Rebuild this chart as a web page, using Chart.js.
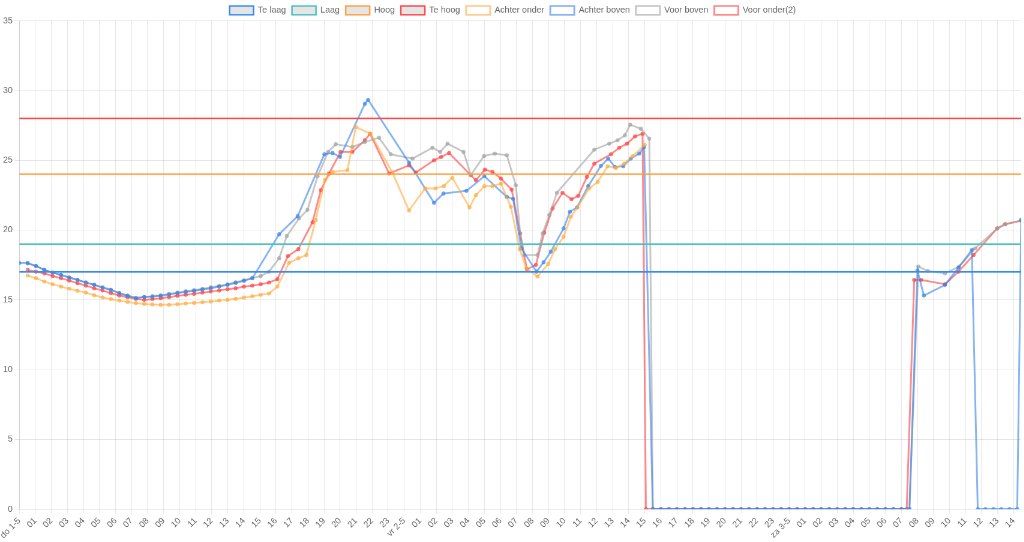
<!DOCTYPE html>
<html><head><meta charset="utf-8">
<script src="https://cdn.jsdelivr.net/npm/chart.js@4"></script>
<style>
html,body{margin:0;padding:0;overflow:hidden;background:#fff;}
#wrap{width:1707px;height:904px;transform:scale(0.6);transform-origin:0 0;}
</style></head><body>
<div id="wrap"><canvas id="c" width="1707" height="904"></canvas></div>
<script>
// hour tick labels (x = hours since do 1-5 00:00)
const hourLabels = ['do 1-5','01','02','03','04','05','06','07','08','09','10','11','12','13','14','15','16','17','18','19','20','21','22','23',
  'vr 2-5','01','02','03','04','05','06','07','08','09','10','11','12','13','14','15','16','17','18','19','20','21','22','23',
  'za 3-5','01','02','03','04','05','06','07','08','09','10','11','12','13','14'];
const xMax = 62.47;

// threshold levels
const teLaag = 17, laag = 19, hoog = 24, teHoog = 28;

// shared run of zero readings (sensor outage)
const zeroTimes = [39.5,40,40.5,41,41.5,42,42.5,43,43.5,44,44.5,45,45.5,46,46.5,47,47.5,48,48.5,49,49.5,50,50.5,51,51.5,52,52.5,53,53.5,54,54.5,55];
const zeroValues = [0,0,0,0,0,0,0,0,0,0,0,0,0,0,0,0,0,0,0,0,0,0,0,0,0,0,0,0,0,0,0,0];

// Achter onder
const tAchterOnder = [0.52,1.04,1.56,2.08,2.6,3.11,3.63,4.15,4.67,5.19,5.71,6.23,6.75,7.27,7.79,8.3,8.82,9.34,9.86,10.38,10.9,11.42,11.94,12.46,12.98,13.49,14.01,14.53,15.05,15.57,16.09,
  16.82,17.4,17.9,18.48,19.05,19.53,20.46,20.98,21.9,23.27,24.3,25.3,25.95,26.47,27.0,28.07,28.47,29.0,29.5,30.03,30.65,31.2,31.62,32.31,32.98,33.4,33.94,34.39,34.8,35.53,36.06,36.68,37.2,37.72,38.24,39.0];
const vAchterOnder = [16.74,16.55,16.31,16.12,15.95,15.8,15.65,15.52,15.33,15.17,15.05,14.95,14.85,14.76,14.71,14.67,14.64,14.64,14.69,14.74,14.78,14.83,14.88,14.95,15.0,15.07,15.17,15.26,15.36,15.45,15.95,
  17.65,17.98,18.21,20.71,23.57,24.17,24.29,27.38,26.9,24.1,21.4,22.98,22.98,23.15,23.75,21.62,22.5,23.14,23.14,23.33,21.67,18.63,17.26,16.67,17.57,18.62,19.52,20.95,21.62,22.98,23.45,24.57,24.45,24.76,25.29,26.12];

// Achter boven
const tAchterBoven = [0,0.52,1.04,1.56,2.08,2.6,3.11,3.63,4.15,4.67,5.19,5.71,6.23,6.75,7.27,7.79,8.3,8.82,9.34,9.86,10.38,10.9,11.42,11.94,12.46,12.98,13.49,14.01,14.53,
  16.2,17.36,19.02,19.53,20.0,21.55,21.75,24.3,25.86,26.45,27.88,29.0,30.4,30.79,31.3,32.25,32.69,33.14,33.94,34.33,34.77,35.47,36.26,36.72,37.14,37.66,38.13,38.65,38.96];
const vAchterBoven = [17.64,17.64,17.43,17.14,16.95,16.79,16.6,16.43,16.24,16.07,15.88,15.71,15.48,15.29,15.12,15.2,15.24,15.29,15.38,15.48,15.57,15.64,15.74,15.83,15.95,16.07,16.21,16.36,16.55,
  19.7,21.0,25.43,25.52,25.24,29.05,29.33,24.83,21.95,22.62,22.81,23.86,22.38,22.24,18.69,17.02,17.69,18.45,20.12,21.31,21.62,23.14,24.6,25.12,24.52,24.57,25.12,25.48,25.95];
const tAchterBovenEnd = [55.5,56.0,56.4,57.72,58.56,59.39,59.76,60.24,60.74,61.22,61.74,62.22,62.47];
const vAchterBovenEnd = [0,17.1,15.31,16.07,17.31,18.57,0,0,0,0,0,0,20.75];

// Voor boven
const tVoorBoven = [0.52,1.04,1.56,2.08,2.6,3.11,3.63,4.15,4.67,5.19,5.71,6.23,6.75,7.27,7.79,8.3,8.82,9.34,9.86,10.38,10.9,11.42,11.94,12.46,12.98,13.49,14.01,14.53,15.05,15.57,
  16.2,16.68,17.44,17.97,18.6,19.25,19.73,20.77,21.54,22.43,23.16,24.52,25.76,26.24,26.7,27.7,28.15,28.98,29.65,30.4,30.96,31.23,31.48,32.31,32.63,33.04,33.52,35.85,36.78,37.3,37.76,38.09,38.76,39.28];
const vVoorBoven = [17.6,17.42,17.15,16.95,16.78,16.6,16.43,16.25,16.08,15.9,15.72,15.5,15.31,15.15,15.2,15.26,15.33,15.43,15.52,15.62,15.7,15.79,15.9,16.0,16.12,16.26,16.41,16.57,16.7,17.02,
  17.98,19.57,20.83,21.45,23.85,25.6,26.15,25.95,26.3,26.62,25.43,25.12,25.9,25.6,26.19,25.6,23.95,25.31,25.48,25.36,23.21,19.76,18.21,18.21,19.76,21.07,22.67,25.76,26.19,26.43,26.79,27.55,27.26,26.55];
const tVoorBovenEnd = [55.5,56.06,56.64,57.72,58.6,59.6,60.97,61.47,62.47];
const vVoorBovenEnd = [0,17.38,17.07,16.9,17.38,18.69,20.1,20.4,20.67];

// Voor onder(2)
const tVoorOnder = [0.52,1.04,1.56,2.08,2.6,3.11,3.63,4.15,4.67,5.19,5.71,6.23,6.75,7.27,7.79,8.3,8.82,9.34,9.86,10.38,10.9,11.42,11.94,12.46,12.98,13.49,14.01,14.53,15.05,15.57,16.09,
  16.75,17.4,18.28,18.8,19.31,20.03,20.77,21.54,21.87,23.06,24.3,24.72,25.86,26.3,26.8,28.15,28.47,29.03,29.5,30.03,30.7,31.23,31.65,32.21,32.73,33.25,33.87,34.43,34.85,35.39,35.85,36.89,37.41,37.89,38.39,38.86,39.07];
const vVoorOnder = [17.14,17.02,16.9,16.71,16.55,16.38,16.19,16.02,15.83,15.67,15.48,15.31,15.19,15.07,15.0,15.05,15.12,15.19,15.29,15.36,15.43,15.52,15.6,15.67,15.76,15.83,15.95,16.02,16.12,16.24,16.48,
  18.14,18.63,20.55,22.86,24.05,25.6,25.6,26.43,26.9,24.05,24.64,24.12,25.0,25.24,25.52,23.93,23.57,24.33,24.17,23.69,22.9,19.76,17.19,17.5,19.81,21.55,22.67,22.21,22.45,23.81,24.76,25.43,25.9,26.19,26.71,26.9,0];
const tVoorOnderEnd = [55.33,55.8,56.23,57.72,58.56,59.5,60.97,61.47,62.47];
const vVoorOnderEnd = [0,16.43,16.43,16.12,17.02,18.21,20.12,20.43,20.67];

function pts(ts, vs) { return ts.map((t, i) => ({ x: t, y: vs[i] })); }
function level(v) { return [{ x: 0, y: v }, { x: xMax, y: v }]; }

const zeroRun = pts(zeroTimes, zeroValues);

function thr(label, color, v) {
  return { label, data: level(v), borderColor: color, backgroundColor: 'rgba(0,0,0,0.1)', borderWidth: 2.5, pointRadius: 0, fill: false };
}
function ser(label, color, data) {
  return { label, data, borderColor: color, backgroundColor: '#fff', pointBackgroundColor: color, pointBorderColor: color,
    borderWidth: 3, pointRadius: 3, pointBorderWidth: 1, fill: false, tension: 0 };
}

Chart.defaults.font.size = 14.5;

new Chart(document.getElementById('c'), {
  type: 'line',
  data: {
    datasets: [
      thr('Te laag', 'rgb(54,140,240)', teLaag),
      thr('Laag', 'rgb(75,192,192)', laag),
      thr('Hoog', 'rgb(255,159,64)', hoog),
      thr('Te hoog', 'rgb(255,70,70)', teHoog),
      ser('Achter onder', 'rgba(255,170,60,0.6)', pts(tAchterOnder, vAchterOnder)),
      ser('Achter boven', 'rgba(54,130,235,0.6)', pts(tAchterBoven, vAchterBoven).concat(zeroRun, pts(tAchterBovenEnd, vAchterBovenEnd))),
      ser('Voor boven', 'rgba(160,160,160,0.6)', pts(tVoorBoven, vVoorBoven).concat(zeroRun, pts(tVoorBovenEnd, vVoorBovenEnd))),
      ser('Voor onder(2)', 'rgba(255,60,60,0.6)', pts(tVoorOnder, vVoorOnder).concat(zeroRun, pts(tVoorOnderEnd, vVoorOnderEnd)))
    ]
  },
  options: {
    responsive: false,
    animation: false,
    devicePixelRatio: 1,
    layout: { padding: { left: 2 } },
    plugins: { legend: { position: 'top' }, tooltip: { enabled: false } },
    scales: {
      x: {
        type: 'linear', min: 0, max: xMax,
        afterBuildTicks: (scale) => { scale.ticks = hourLabels.map((_, i) => ({ value: i })); },
        ticks: { autoSkip: false, minRotation: 45, maxRotation: 45, callback: (v) => hourLabels[v] }
      },
      y: { min: 0, max: 35, ticks: { stepSize: 5 } }
    }
  }
});
</script>
</body></html>
